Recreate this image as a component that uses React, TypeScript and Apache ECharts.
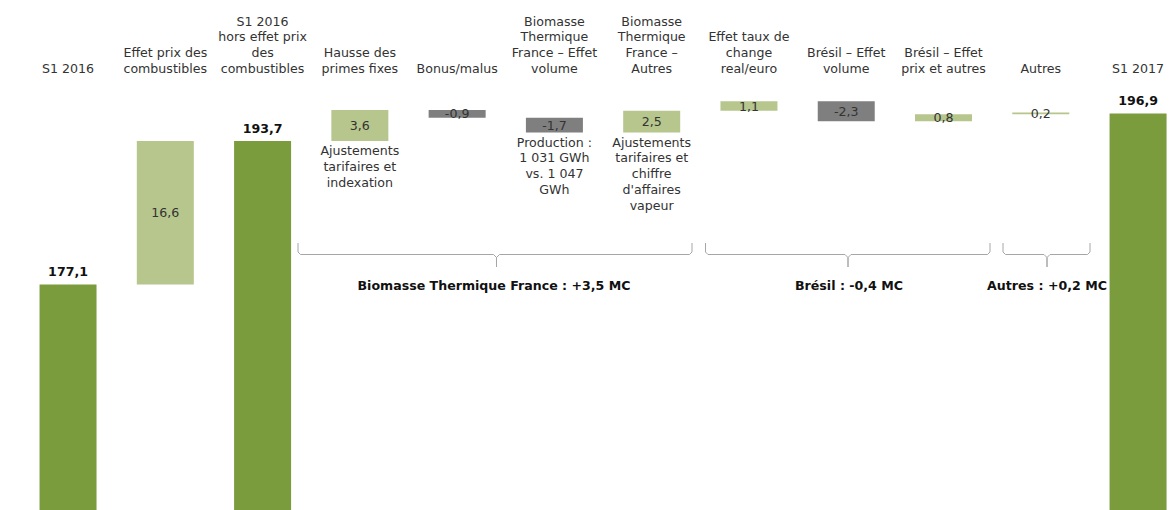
import React, { useEffect, useRef } from "react";
import * as echarts from "echarts";

const categories = [
  "S1 2016",
  "Effet prix des\ncombustibles",
  "S1 2016\nhors effet prix\ndes\ncombustibles",
  "Hausse des\nprimes fixes",
  "Bonus/malus",
  "Biomasse\nThermique\nFrance – Effet\nvolume",
  "Biomasse\nThermique\nFrance –\nAutres",
  "Effet taux de\nchange\nreal/euro",
  "Brésil – Effet\nvolume",
  "Brésil – Effet\nprix et autres",
  "Autres",
  "S1 2017",
];

const values = [177.1, 16.6, 193.7, 3.6, -0.9, -1.7, 2.5, 1.1, -2.3, 0.8, 0.2, 196.9];
const isTotal = [true, false, true, false, false, false, false, false, false, false, false, true];

const notes = [
  "",
  "",
  "",
  "Ajustements\ntarifaires et\nindexation",
  "",
  "Production :\n1 031 GWh\nvs. 1 047\nGWh",
  "Ajustements\ntarifaires et\nchiffre\nd'affaires\nvapeur",
  "",
  "",
  "",
  "",
  "",
];

const groupLabels = [
  "Biomasse Thermique France : +3,5 MC",
  "Brésil : -0,4 MC",
  "Autres : +0,2 MC",
];

const FONT = "DejaVu Sans";
const FS = 12.6;
const TOTAL_COLOR = "#7a9c3c";
const POS_COLOR = "#b6c68d";
const NEG_COLOR = "#7f7f7f";

function fmt(v: number) {
  return v.toFixed(1).replace(".", ",");
}

export default function App() {
  const ref = useRef<HTMLDivElement>(null);

  useEffect(() => {
    if (!ref.current) return;
    const chart = echarts.init(ref.current, undefined, { renderer: "svg" });

    // waterfall layout built from the values
    const bases: number[] = [];
    const heights: number[] = [];
    let level = 0;
    values.forEach((v, i) => {
      if (isTotal[i]) {
        bases.push(0);
        heights.push(v);
        level = v;
      } else {
        const b = v >= 0 ? level : level + v;
        bases.push(+b.toFixed(2));
        heights.push(Math.abs(v));
        level = +(level + v).toFixed(2);
      }
    });

    const baseData = bases.map((b, i) => ({
      value: b,
      label: notes[i]
        ? {
            show: true,
            position: "insideTop",
            distance: 2,
            formatter: notes[i],
            color: "#333",
            fontSize: FS,
            lineHeight: 15.7,
            fontFamily: FONT,
            align: "center",
          }
        : { show: false },
    }));

    const visData = heights.map((h, i) => {
      const total = isTotal[i];
      const v = values[i];
      return {
        value: h,
        itemStyle: { color: total ? TOTAL_COLOR : v >= 0 ? POS_COLOR : NEG_COLOR },
        label: total
          ? {
              show: true,
              position: "top",
              distance: 6,
              formatter: fmt(v),
              fontWeight: "bold",
              color: "#111",
              fontSize: FS,
              fontFamily: FONT,
            }
          : {
              show: true,
              position: "inside",
              formatter: fmt(v),
              color: "#333",
              fontSize: FS,
              fontFamily: FONT,
            },
      };
    });

    const brace = (x1: number, tip: number, x2: number) => ({
      type: "polyline",
      shape: {
        points: [
          [x1, 243],
          [x1, 252],
          [x1 + 2.5, 254.5],
          [tip - 3, 254.5],
          [tip, 257.5],
          [tip, 267],
          [tip, 257.5],
          [tip + 3, 254.5],
          [x2 - 2.5, 254.5],
          [x2, 252],
          [x2, 243],
        ],
      },
      style: { stroke: "#a6a6a6", lineWidth: 1, fill: null },
      silent: true,
    });

    const groupText = (x: number, text: string) => ({
      type: "text",
      x,
      y: 285,
      style: {
        text,
        fill: "#111",
        font: `bold ${FS}px "${FONT}"`,
        textAlign: "center",
        textVerticalAlign: "middle",
      },
      silent: true,
    });

    chart.setOption({
      animation: false,
      backgroundColor: "#fff",
      grid: { left: 19.4, top: 78, width: 1167.3, height: 432, containLabel: false },
      xAxis: {
        type: "category",
        position: "top",
        data: categories,
        axisLine: { show: false },
        axisTick: { show: false },
        splitLine: { show: false },
        axisLabel: {
          interval: 0,
          fontSize: FS,
          lineHeight: 15.7,
          color: "#333",
          fontFamily: FONT,
          margin: 2,
        },
      },
      yAxis: {
        type: "value",
        min: 151,
        max: 201,
        show: false,
        splitLine: { show: false },
      },
      series: [
        {
          type: "bar",
          stack: "w",
          barWidth: 57,
          silent: true,
          itemStyle: { color: "rgba(0,0,0,0)" },
          emphasis: { disabled: true },
          data: baseData,
        },
        {
          type: "bar",
          stack: "w",
          barWidth: 57,
          silent: true,
          emphasis: { disabled: true },
          data: visData,
        },
      ],
      graphic: [
        brace(298, 496.5, 692),
        brace(705.5, 848, 990),
        brace(1003, 1047, 1090),
        groupText(494, groupLabels[0]),
        groupText(849, groupLabels[1]),
        groupText(1047, groupLabels[2]),
      ],
    });

    return () => chart.dispose();
  }, []);

  return (
    <div style={{ position: "fixed", left: 0, top: 0, width: 1173, height: 510, overflow: "hidden", background: "#fff" }}>
      <div ref={ref} style={{ width: 1190, height: 510 }} />
    </div>
  );
}
